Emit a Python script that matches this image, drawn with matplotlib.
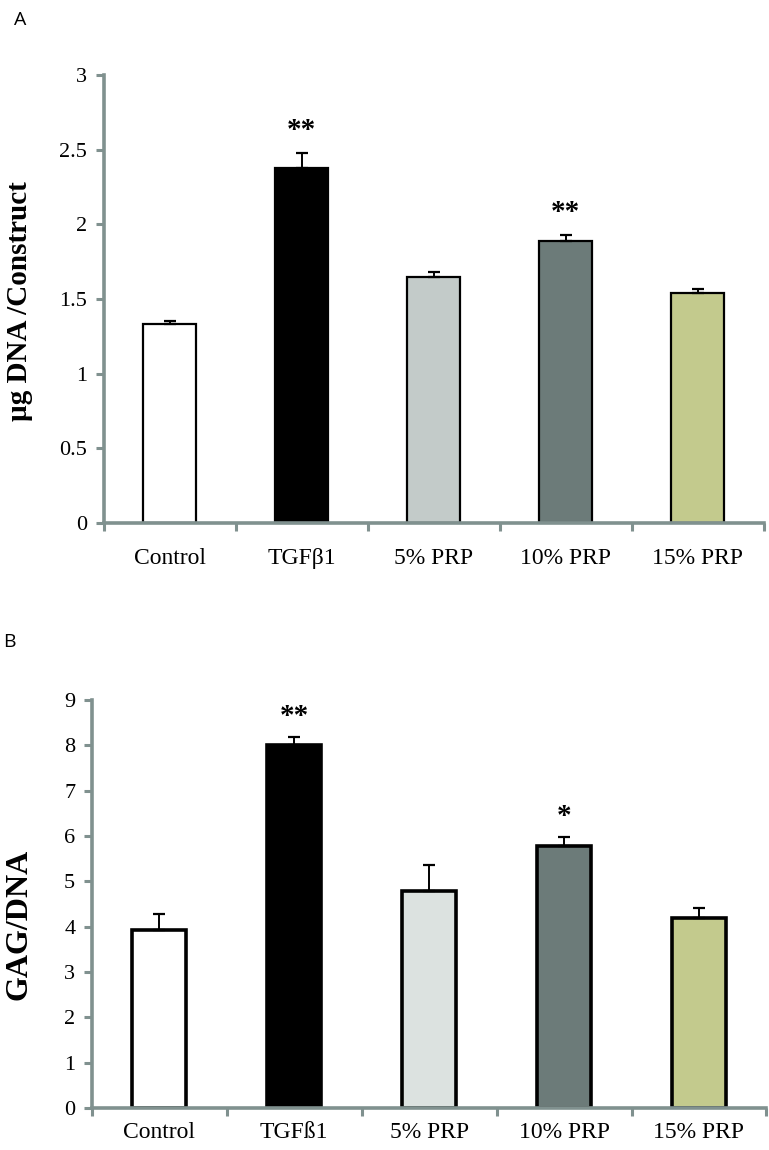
import numpy as np
import matplotlib
matplotlib.use("Agg")
import matplotlib.pyplot as plt

# datos
grupos = ["Control", "TGFβ1", "5% PRP", "10% PRP", "15% PRP"]
grupos_b = ["Control", "TGFß1", "5% PRP", "10% PRP", "15% PRP"]

dna_media = [1.33, 2.38, 1.65, 1.89, 1.54]
dna_error = [0.02, 0.10, 0.03, 0.04, 0.03]
dna_signif = ["", "**", "", "**", ""]

gag_media = [3.92, 8.00, 4.78, 5.79, 4.19]
gag_error = [0.36, 0.19, 0.57, 0.19, 0.22]
gag_signif = ["", "**", "", "*", ""]

colores_a = ["#ffffff", "#000000", "#c3cbc9", "#6c7b79", "#c3ca8d"]
colores_b = ["#ffffff", "#000000", "#dce2e0", "#6c7b79", "#c3ca8d"]

eje_color = "#80918f"
serif = ["Liberation Serif", "DejaVu Serif"]


def dibujar_panel(ax, etiquetas, medias, errores, signif, colores, ymax, paso,
                  ylabel, tam_label, borde, fmt, star_off, pad_x):
    x = np.arange(len(medias))
    ax.bar(x, medias, width=0.4, color=colores, edgecolor="black",
           linewidth=borde, zorder=2)
    ax.errorbar(x + 0.0, medias, yerr=[np.zeros(len(errores)), errores],
                fmt="none", ecolor="black", elinewidth=1.4, capsize=4,
                capthick=1.6, zorder=3)
    for xi, m, e, s in zip(x, medias, errores, signif):
        if s:
            ax.text(xi, m + e + star_off, s, ha="center", va="bottom",
                    fontsize=21, family=serif, fontweight="bold")

    ax.set_xlim(-0.5, len(medias) - 0.5)
    ax.set_ylim(0, ymax)
    ax.set_yticks(np.arange(0, ymax + paso / 2, paso))
    ax.set_yticklabels([fmt(v) for v in np.arange(0, ymax + paso / 2, paso)],
                       family=serif, fontsize=16)
    ax.set_xticks(x)
    ax.set_xticklabels(etiquetas, family=serif, fontsize=17)
    ax.set_xticks(np.arange(-0.5, len(medias), 1.0), minor=True)
    ax.tick_params(axis="x", which="major", length=0, pad=pad_x)
    ax.tick_params(axis="x", which="minor", length=6, width=2.2,
                   color=eje_color, direction="out")
    ax.tick_params(axis="y", length=6, width=2.2, color=eje_color, pad=6)

    for lado in ["top", "right"]:
        ax.spines[lado].set_visible(False)
    for lado in ["left", "bottom"]:
        ax.spines[lado].set_color(eje_color)
        ax.spines[lado].set_linewidth(2.6)
        ax.spines[lado].set_zorder(4)

    ax.set_ylabel(ylabel, family=serif, fontsize=tam_label, fontweight="bold")


fig = plt.figure(figsize=(7.69, 11.5), dpi=100)

ax_a = fig.add_axes([0.135, 0.5452, 0.858, 0.3896])
dibujar_panel(ax_a, grupos, dna_media, dna_error, dna_signif, colores_a,
              3, 0.5, "µg DNA /Construct", 21, 1.6,
              lambda v: "0" if v == 0 else ("%g" % v), 0.06, 18)
ax_a.yaxis.set_label_coords(-0.107, 0.495)

ax_b = fig.add_axes([0.1196, 0.0365, 0.877, 0.3548])
dibujar_panel(ax_b, grupos_b, gag_media, gag_error, gag_signif, colores_b,
              9, 1, "GAG/DNA", 23, 2.6, lambda v: "%d" % v, 0.15, 10)
ax_b.yaxis.set_label_coords(-0.087, 0.45)

fig.text(0.018, 0.983, "A", fontsize=14, family=["Open Sans", "DejaVu Sans"],
         ha="left", va="center")
fig.text(0.004, 0.442, "B", fontsize=14, family=["Open Sans", "DejaVu Sans"],
         ha="left", va="center")

fig.savefig("out.png", dpi=100)
plt.close(fig)
